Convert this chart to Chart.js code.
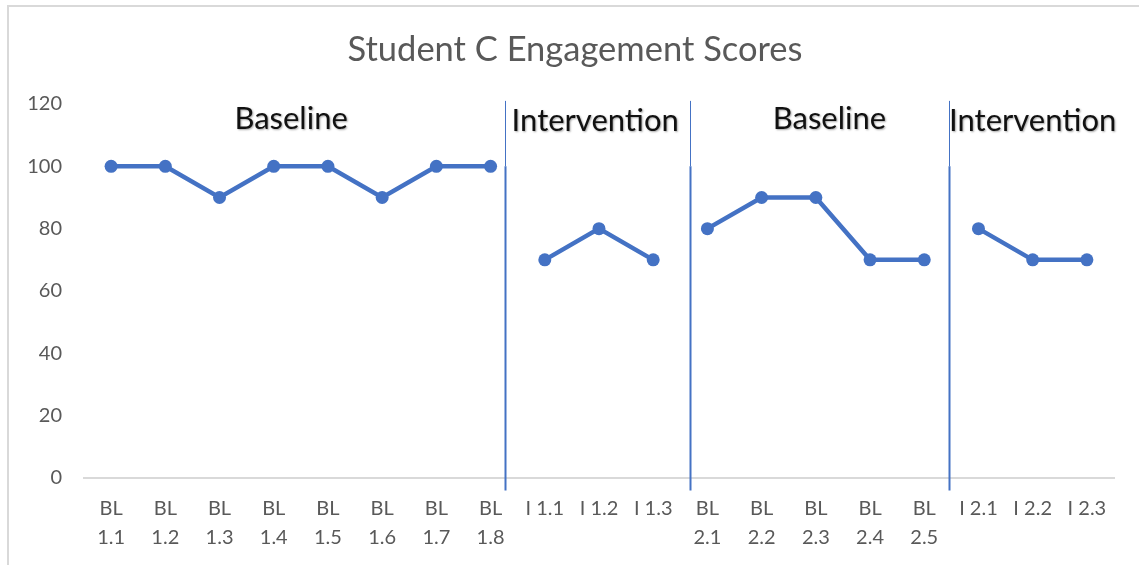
<!DOCTYPE html>
<html>
<head>
<meta charset="utf-8">
<script src="https://cdn.jsdelivr.net/npm/chart.js@4"></script>
<style>
    html, body { margin: 0; padding: 0; background: #fff; }
    #wrap { position: relative; width: 1139px; height: 565px; overflow: hidden; }
    #frame { position: absolute; left: 7px; top: 5px; width: 1160px; height: 600px; border: 2px solid #d9d9d9; box-sizing: border-box; pointer-events: none; }
    canvas { position: absolute; left: 0; top: 0; }
</style>
</head>
<body>
<div id="wrap">
    <canvas id="grafico" width="1139" height="565"></canvas>
    <div id="frame"></div>
</div>
<script>
// Dados do gráfico
const titulo = 'Student C Engagement Scores';
const categorias = ['BL 1.1', 'BL 1.2', 'BL 1.3', 'BL 1.4', 'BL 1.5', 'BL 1.6', 'BL 1.7', 'BL 1.8',
    'I 1.1', 'I 1.2', 'I 1.3',
    'BL 2.1', 'BL 2.2', 'BL 2.3', 'BL 2.4', 'BL 2.5',
    'I 2.1', 'I 2.2', 'I 2.3'];
const pontuacoes = [100, 100, 90, 100, 100, 90, 100, 100, 70, 80, 70, 80, 90, 90, 70, 70, 80, 70, 70];
const fases = [0, 0, 0, 0, 0, 0, 0, 0, 1, 1, 1, 2, 2, 2, 2, 2, 3, 3, 3];
const nomesFases = ['Baseline', 'Intervention', 'Baseline', 'Intervention'];
const yTicks = [0, 20, 40, 60, 80, 100, 120];

const AZUL = '#4472C4';
const FONTE = "Lato, 'Open Sans', sans-serif";

// Título, linhas de mudança de fase e rótulos das fases
const fasesPlugin = {
    id: 'fases',
    afterDatasetsDraw(chart) {
        const ctx = chart.ctx;
        const x = chart.scales.x;
        const y = chart.scales.y;

        ctx.save();
        // título centralizado na área do gráfico do Excel
        ctx.fillStyle = '#595959';
        ctx.font = "34.5px " + FONTE;
        ctx.textAlign = 'center';
        ctx.textBaseline = 'middle';
        ctx.fillText(titulo, 575, 50);

        // divisórias entre fases (posição relativa ao índice da categoria)
        const divisorias = [7.26, 10.68, 15.46];
        ctx.strokeStyle = AZUL;
        divisorias.forEach(d => {
            const px = Math.round(x.getPixelForValue(d)) + 0.5;
            ctx.lineWidth = 1;
            ctx.beginPath();
            ctx.moveTo(px, y.getPixelForValue(121));
            ctx.lineTo(px, y.getPixelForValue(100));
            ctx.stroke();
            ctx.lineWidth = 2;
            ctx.beginPath();
            ctx.moveTo(px, y.getPixelForValue(100));
            ctx.lineTo(px, y.getPixelForValue(-4));
            ctx.stroke();
        });

        // rótulos das fases
        const centros = [3.32, 8.93, 13.25, 17.0];
        const alturas = [115.2, 114.6, 115.2, 114.6];
        ctx.fillStyle = '#111';
        ctx.font = "31px " + FONTE;
        ctx.shadowColor = 'rgba(0,0,0,0.35)';
        ctx.shadowBlur = 2;
        ctx.shadowOffsetX = 1;
        ctx.shadowOffsetY = 1;
        nomesFases.forEach((nome, i) => {
            ctx.fillText(nome, x.getPixelForValue(centros[i]), y.getPixelForValue(alturas[i]));
        });
        ctx.restore();
    }
};

const ctx = document.getElementById('grafico').getContext('2d');
new Chart(ctx, {
    type: 'line',
    data: {
        labels: categorias,
        datasets: [{
            label: 'Engagement',
            data: pontuacoes,
            borderColor: AZUL,
            backgroundColor: AZUL,
            borderWidth: 4.5,
            pointRadius: 6.5,
            pointBorderWidth: 0,
            pointBackgroundColor: AZUL,
            tension: 0,
            segment: {
                borderColor: s => fases[s.p0DataIndex] !== fases[s.p1DataIndex] ? 'transparent' : AZUL
            }
        }]
    },
    options: {
        responsive: false,
        animation: false,
        layout: { padding: { left: 0, right: 25, top: 0, bottom: 0 } },
        plugins: {
            legend: { display: false },
            tooltip: { enabled: false },
            // reserva o espaço do título; o texto é desenhado pelo plugin
            title: {
                display: true,
                text: titulo,
                color: 'rgba(0,0,0,0)',
                font: { family: FONTE, size: 33, weight: 'normal', lineHeight: 1.2 },
                padding: { top: 30, bottom: 34.4 }
            }
        },
        scales: {
            x: {
                offset: true,
                grid: { display: false, drawTicks: false },
                border: { display: true, color: '#d9d9d9', width: 2 },
                ticks: {
                    color: '#595959',
                    font: { family: FONTE, size: 20, lineHeight: 1.45 },
                    padding: 16,
                    maxRotation: 0,
                    autoSkip: false,
                    callback: function(valor, i) {
                        const rotulo = categorias[i];
                        return rotulo.startsWith('BL') ? rotulo.split(' ') : rotulo;
                    }
                },
                afterFit: s => { s.height = 87; }
            },
            y: {
                min: 0,
                max: 120,
                afterBuildTicks: s => { s.ticks = yTicks.map(v => ({ value: v })); },
                grid: { display: false, drawTicks: false },
                border: { display: false },
                ticks: {
                    color: '#595959',
                    font: { family: FONTE, size: 20 },
                    padding: 22
                },
                afterFit: s => { s.width = 84; }
            }
        }
    },
    plugins: [fasesPlugin]
});
</script>
</body>
</html>
